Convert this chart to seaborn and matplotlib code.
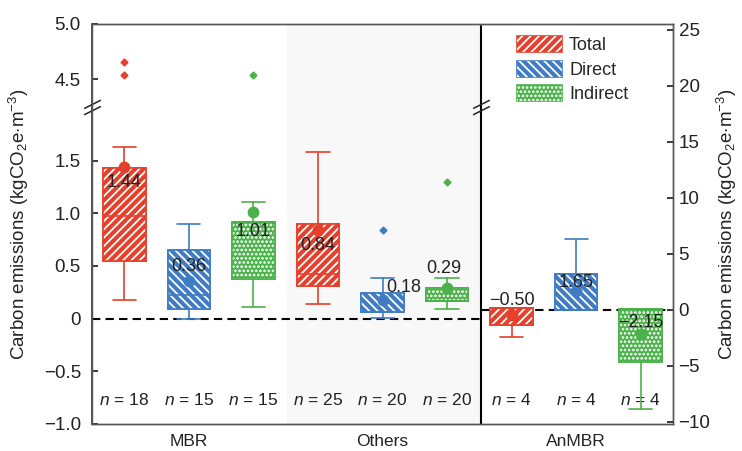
import matplotlib
matplotlib.use("Agg")
import matplotlib.pyplot as plt
import numpy as np
import seaborn as sns
from matplotlib.patches import Patch, PathPatch
from matplotlib.path import Path

# ==========================================
# DATA
# ==========================================
groups = ["MBR", "Others", "AnMBR"]
series = ["Total", "Direct", "Indirect"]
n_counts = [18, 15, 15, 25, 20, 20, 4, 4, 4]

# box statistics (AnMBR values on right axis)
whis_low = [0.18, 0.00, 0.115, 0.135, 0.005, 0.09, -2.40, 0.00, -8.90]
q1 = [0.55, 0.09, 0.38, 0.31, 0.06, 0.165, -1.35, 0.00, -4.65]
median = [0.97, 0.225, 0.917, 0.42, 0.06, 0.165, 0.15, 0.00, 0.05]
q3 = [1.425, 0.655, 0.917, 0.90, 0.24, 0.295, 0.15, 3.20, 0.05]
whis_high = [1.63, 0.90, 1.105, 1.58, 0.385, 0.385, 0.15, 6.35, 0.05]
means = [1.44, 0.36, 1.01, 0.84, 0.18, 0.29, -0.50, 1.65, -2.15]
mean_labels = ["1.44", "0.36", "1.01", "0.84", "0.18", "0.29", "\u22120.50", "1.65", "\u22122.15"]
fliers = [[4.54, 4.66], [], [4.54], [], [0.84], [1.30], [], [], []]

left_ticks = [-1.0, -0.5, 0, 0.5, 1.0, 1.5, 4.5, 5.0]
left_ticklabels = ["\u22121.0", "\u22120.5", "0", "0.5", "1.0", "1.5", "4.5", "5.0"]
right_ticks = [-10, -5, 0, 5, 10, 15, 20, 25]
right_ticklabels = ["\u221210", "\u22125", "0", "5", "10", "15", "20", "25"]

# ==========================================
# STYLE
# ==========================================
COLORS = ["#e5402c", "#3f7cc4", "#4bb14a"]
HATCHES = ["////", "\\\\\\\\", "...."]
# label offsets from the mean marker (points)
LABEL_OFFSETS = [(0, -11), (0, 10), (0, -14), (0, -11), (15, 9), (-2, 14), (0, 11), (0, 6), (0, 8)]
TXT = "#222222"

sns.set_theme(style="ticks", font="Liberation Sans")
plt.rcParams["font.family"] = ["Liberation Sans", "DejaVu Sans"]
plt.rcParams["mathtext.fontset"] = "custom"
plt.rcParams["mathtext.rm"] = "Liberation Sans"
plt.rcParams["mathtext.it"] = "Liberation Sans:italic"
plt.rcParams["hatch.linewidth"] = 1.3


# broken left axis: compress 2.0 - 4.25
def fwd(v):
    v = np.asarray(v, dtype=float)
    return np.where(v <= 2.0, v,
                    np.where(v >= 4.25, 2.01 + (v - 4.25) * 1.048,
                             2.0 + (v - 2.0) * 0.01 / 2.25))


def inv(u):
    u = np.asarray(u, dtype=float)
    return np.where(u <= 2.0, u,
                    np.where(u >= 2.01, 4.25 + (u - 2.01) / 1.048,
                             2.0 + (u - 2.0) * 2.25 / 0.01))


def draw_boxes(ax, idx):
    for i in idx:
        c = COLORS[i % 3]
        st = dict(med=median[i], q1=q1[i], q3=q3[i], whislo=whis_low[i],
                  whishi=whis_high[i], mean=means[i], fliers=fliers[i])
        res = ax.bxp([st], positions=[i], widths=0.66, capwidths=0.36,
                     patch_artist=True, showmeans=True, manage_ticks=False,
                     boxprops=dict(facecolor=c, edgecolor=c, linewidth=1.2),
                     whiskerprops=dict(color=c, linewidth=1.2),
                     capprops=dict(color=c, linewidth=1.2),
                     medianprops=dict(color=c, linewidth=1.2),
                     meanprops=dict(marker="o", markerfacecolor=c, markeredgecolor=c, markersize=7.5),
                     flierprops=dict(marker="D", markerfacecolor=c, markeredgecolor=c, markersize=3.5))
        box = res["boxes"][0]
        ax.add_patch(PathPatch(box.get_path(), transform=box.get_transform(), facecolor="none",
                               edgecolor="white", lw=0, hatch=HATCHES[i % 3], zorder=2.1))
        ax.add_patch(PathPatch(box.get_path(), transform=box.get_transform(), facecolor="none",
                               edgecolor=c, lw=1.2, zorder=2.2))
        for ln in res["medians"]:
            ln.set_zorder(2.3)
        for ln in res["means"]:
            ln.set_zorder(3.5)
        dx, dy = LABEL_OFFSETS[i]
        ax.annotate(mean_labels[i], (i, means[i]), xytext=(dx, dy), textcoords="offset points",
                    ha="center", va="center", fontsize=13, color=TXT, zorder=4)


fig = plt.figure(figsize=(7.42, 4.51), dpi=100)
ax = fig.add_axes([92 / 742, 27 / 451, 581 / 742, 400 / 451])
ax2 = ax.twinx()

ax.set_yscale("function", functions=(fwd, inv))
ax.set_xlim(-0.5, 8.5)
ax.set_ylim(-1.0, 5.0)
ax2.set_ylim(-10.2, 25.5)

SEP = 5.53
ax.axvspan(2.52, SEP, color="#f8f8f8", zorder=0, lw=0)

draw_boxes(ax, [0, 1, 2, 3, 4, 5])
draw_boxes(ax2, [6, 7, 8])

ax.hlines(0, -0.5, SEP, colors="black", linestyles=(0, (4, 2.5)), lw=1.5, zorder=1.5)
ax2.hlines(0, SEP, 8.42, colors="black", linestyles=(0, (4, 2.5)), lw=1.5, zorder=1.5)
ax.axvline(SEP, ymin=0, ymax=0.995, color="black", lw=1.5, zorder=1.6)

# break marks
brk = Path([(-8, -7), (8, 1), (-8, -1), (8, 7)],
           [Path.MOVETO, Path.LINETO, Path.MOVETO, Path.LINETO])
ax.plot([0], [3.0], marker=brk, markersize=12, color=TXT, mew=1.1,
        transform=ax.get_yaxis_transform(), clip_on=False, zorder=5)
ax.plot([SEP], [3.0], marker=brk, markersize=12, color=TXT, mew=1.1, clip_on=False, zorder=5)

for i, n in enumerate(n_counts):
    ax.text(i, 0.06, f"$n$ = {n}", transform=ax.get_xaxis_transform(),
            ha="center", va="center", fontsize=12.5, color=TXT)

# axes styling
ax.set_yticks(left_ticks)
ax.set_yticklabels(left_ticklabels)
ax.yaxis.set_minor_locator(matplotlib.ticker.NullLocator())
ax.set_xticks([1, 4, 7])
ax.set_xticklabels(groups)
ax.tick_params(axis="x", length=0, pad=7, labelsize=12.5, colors=TXT)
ax.tick_params(axis="y", direction="in", length=4, pad=8, labelsize=13.5, colors=TXT)
ax2.set_yticks(right_ticks)
ax2.set_yticklabels(right_ticklabels)
ax2.tick_params(axis="y", direction="in", length=4, pad=4, labelsize=13.5, colors=TXT)

ylabel = r"Carbon emissions (kgCO$_2$e$\cdot$m$^{-3}$)"
ax.set_ylabel(ylabel, fontsize=13.5, color=TXT, labelpad=9)
ax2.set_ylabel(ylabel, fontsize=13.5, color=TXT, labelpad=3)

for a in (ax, ax2):
    for side in ["left", "right", "top", "bottom"]:
        a.spines[side].set_color("#555555")
        a.spines[side].set_linewidth(1.0)
        a.spines[side].set_visible(True)
ax.spines["left"].set_color("#333333")
ax.spines["left"].set_linewidth(1.2)

handles = [(Patch(facecolor=c, edgecolor=c, lw=1.2),
            Patch(facecolor="none", edgecolor="white", hatch=h, lw=0))
           for c, h in zip(COLORS, HATCHES)]
ax2.legend(handles, series, loc="upper left", bbox_to_anchor=(0.731, 0.97), frameon=False,
           fontsize=13, handlelength=2.5, handleheight=1.0, handletextpad=0.4,
           labelspacing=0.35, borderpad=0, borderaxespad=0)

fig.savefig("out.png", dpi=100)
